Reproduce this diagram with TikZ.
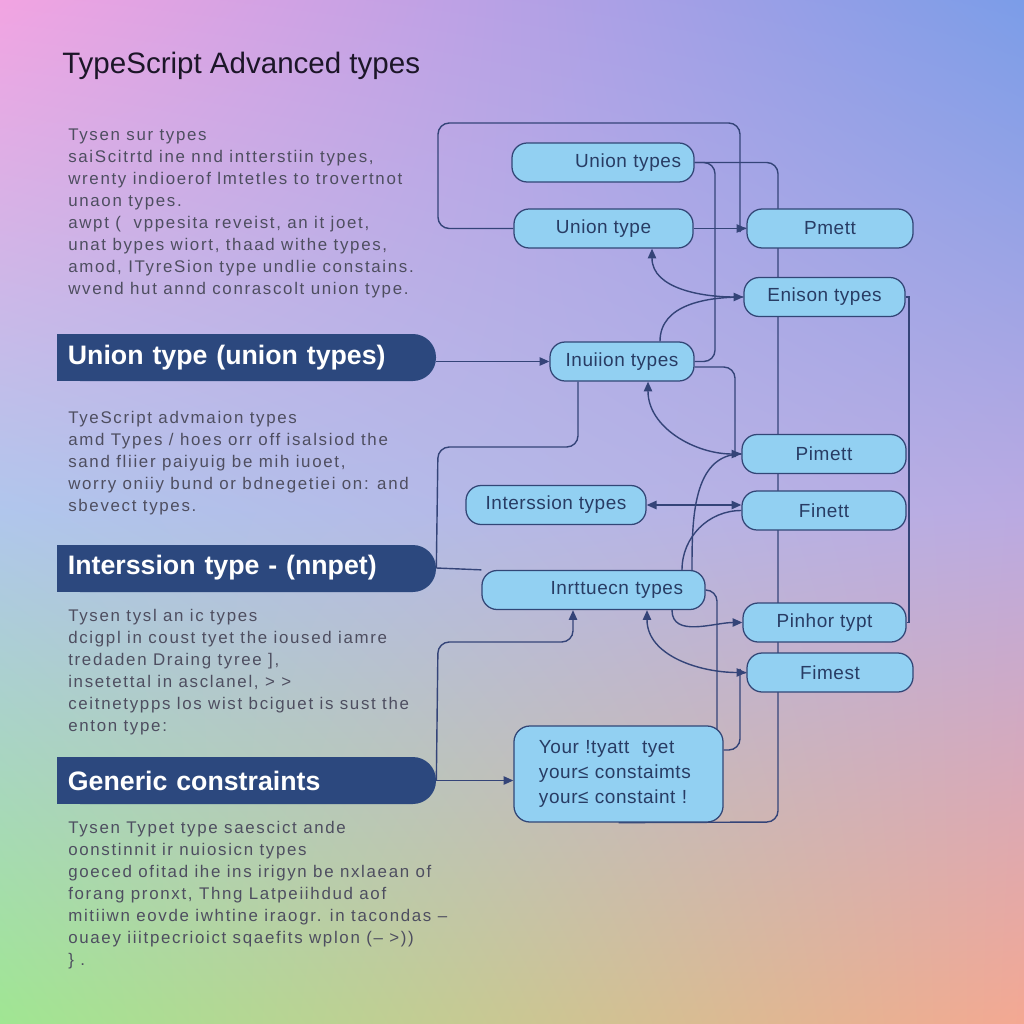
\documentclass[tikz,border=0pt]{standalone}
\usepackage{fontspec}
\setmainfont{Liberation Sans}
\newfontfamily\bodyfont[LetterSpace=10]{Liberation Sans}
\newfontfamily\boxfont[LetterSpace=3]{Liberation Sans}
\usepackage{tikz}
\usetikzlibrary{arrows}
\usetikzlibrary{arrows.meta,shadings}
\pgfdeclarelayer{bg}
\pgfdeclarelayer{wires}
\pgfsetlayers{bg,wires,main}
\definecolor{bgtl}{RGB}{242,164,226}
\definecolor{bgtr}{RGB}{123,157,232}
\definecolor{bgml}{RGB}{176,198,236}
\definecolor{bgmr}{RGB}{186,170,226}
\definecolor{bgbl}{RGB}{160,230,146}
\definecolor{bgbr}{RGB}{244,168,146}
\definecolor{barcol}{RGB}{44,72,126}
\definecolor{boxcol}{RGB}{146,208,242}
\definecolor{edgecol}{RGB}{50,70,118}
\definecolor{boxtxt}{RGB}{40,60,100}
\definecolor{linecol}{RGB}{52,68,120}
\definecolor{bodycol}{RGB}{78,78,96}
\definecolor{titlecol}{RGB}{28,22,40}
\tikzset{
    tbox/.style={draw=edgecol,fill=boxcol,line width=0.9pt,rounded corners=0.38cm,minimum height=0.975cm,inner sep=0pt,text=boxtxt,font=\boxfont\fontsize{13.5}{17.8}\selectfont},
    link/.style={draw=linecol,line width=1pt,rounded corners=0.28cm},
    bodytxt/.style={anchor=north west,inner sep=0pt,align=left,text=bodycol,font=\bodyfont\fontsize{12}{15.65}\selectfont},
    headtxt/.style={minimum height=1.175cm,text width=8.925cm,inner xsep=0.275cm,inner ysep=0pt,align=left,text=white,font=\bfseries\fontsize{19}{22}\selectfont}
}
\begin{document}
\begin{tikzpicture}[line cap=round,line join=round,>={Triangle[length=7pt,width=6pt]},x=0.025cm,y=-0.025cm]
                \useasboundingbox (0,0) rectangle (1024,1024);
                \begin{pgfonlayer}{bg}
                    \shade[upper left=bgtl,upper right=bgtr,lower left=bgml,lower right=bgmr] (0,0) rectangle (1024,512);
                    \shade[upper left=bgml,upper right=bgmr,lower left=bgbl,lower right=bgbr] (0,512) rectangle (1024,1024);
                \end{pgfonlayer}
                \node[anchor=base west,inner sep=0pt,text=titlecol,font=\fontsize{21}{25}\selectfont] (title) at (62,73.5) {TypeScript Advanced types};
                \node[bodytxt] (txt1) at (68,129) {Tysen sur types\\saiScitrtd ine nnd intterstiin types,\\wrenty indioerof lmtetles to trovertnot\\unaon types.\\awpt (\ \ vppesita reveist, an it joet,\\unat bypes wiort, thaad withe types,\\amod, ITyreSion type undlie constains.\\wvend hut annd conrascolt union type.};
                \node[bodytxt] (txt2) at (68,411) {TyeScript advmaion types\\amd Types / hoes orr off isalsiod the\\sand fliier paiyuig be mih iuoet,\\worry oniiy bund or bdnegetiei on: and\\sbevect types.};
                \node[bodytxt] (txt3) at (68,609) {Tysen tysl an ic types\\dcigpl in coust tyet the ioused iamre\\tredaden Draing tyree ],\\insetettal in asclanel, > >\\ceitnetypps los wist bciguet is sust the\\enton type:};
                \node[bodytxt] (txt4) at (68,821) {Tysen Typet type saescict ande\\oonstinnit ir nuiosicn types\\goeced ofitad ihe ins irigyn be nxlaean of\\forang pronxt, Thng Latpeiihdud aof\\mitiiwn eovde iwhtine iraogr. in tacondas –\\ouaey iiitpecrioict sqaefits wplon (– >))\\\} .};
                \foreach \yy in {334,545,757} {
                    \fill[barcol,rounded corners=0.58cm] (57,\yy) rectangle (436,\yy+47);
                    \fill[barcol] (57,\yy) rectangle (300,\yy+47);
                }
                \node[headtxt] (bar1) at (246.5,357.5) {Union type\ (union types)};
                \node[headtxt] (bar2) at (246.5,568) {Interssion type - (nnpet)};
                \node[headtxt] (bar3) at (246.5,780.5) {Generic constraints};
                \node[tbox,text width=3.9cm,inner xsep=0.325cm,align=right] (ut1) at (603,162.5) {Union types};
                \node[tbox,minimum width=4.475cm] (ut2) at (603.5,228.5) {Union type};
                \node[tbox,minimum width=4.15cm] (pt1) at (830,228.5) {Pmett};
                \node[tbox,minimum width=4.025cm] (en) at (824.5,297) {Enison types};
                \node[tbox,minimum width=3.6cm] (iu1) at (622,361.5) {Inuiion types};
                \node[tbox,minimum width=4.1cm] (pt2) at (824,454) {Pimett};
                \node[tbox,minimum width=4.5cm] (it) at (556,505) {Interssion types};
                \node[tbox,minimum width=4.1cm] (ft1) at (824,510.5) {Finett};
                \node[tbox,text width=4.475cm,inner xsep=0.55cm,align=right] (iu2) at (593.5,590) {Inrttuecn types};
                \node[tbox,minimum width=4.075cm] (pt3) at (824.5,622.5) {Pinhor typt};
                \node[tbox,minimum width=4.15cm] (ft2) at (830,672.5) {Fimest};
                \node[tbox,rounded corners=0.4cm,minimum height=2.4cm,text width=3.975cm,inner xsep=0.625cm,align=left] (yb) at (618.5,774) {Your !tyatt\ \ tyet\\your≤ constaimts\\your≤ constaint !};
                \begin{pgfonlayer}{wires}
                    \draw[link] (ut2.west) -- (438,228.5) -- (438,123) -- (740,123) -- (740,221) to[out=-90,in=180] (pt1.west);
                    \draw[link,->] (ut2.east) -- (pt1.west);
                    \draw[link] (ut1.east) -- (778,162.5) -- (778,822) -- (yb.south);
                    \draw[link] (ut1.east) -- (715,162.5) -- (715,361.5) -- (iu1.east);
                    \draw[link,sharp corners] (en.east) -- (909,297) -- (909,622.5) -- (pt3.east);
                    \draw[link,<->] (652,0 |- ut2.south) to[out=-90,in=180] (en.west);
                    \draw[link] (660,0 |- iu1.north) to[out=90,in=180] (en.west);
                    \draw[link,->] (bar1.east |- iu1.west) -- (iu1.west);
                    \draw[link] (578,0 |- iu1.south) -- (578,447) -- (438,447) -- (bar2.east);
                    \draw[link] (0,367 -| iu1.east) -- (735,367) -- (735,446) to[out=-90,in=180] (pt2.west);
                    \draw[link,<->] (648,0 |- iu1.south) to[out=-90,in=180] (pt2.west);
                    \draw[link,<->] (it.east) -- (it.east -| ft1.west);
                    \draw[link] (692,0 |- iu2.north) to[out=90,in=180] (pt2.west);
                    \draw[link] (682,0 |- iu2.north) to[out=90,in=180] (ft1.west);
                    \draw[link] (bar2.east) -- (iu2.north west);
                    \draw[link] (iu2.east) -- (717,590) -- (717,0 |- yb.center);
                    \draw[link,->] (672,0 |- iu2.south) to[out=-90,in=180] (pt3.west);
                    \draw[link,<->] (647,0 |- iu2.south) to[out=-90,in=180] (ft2.west);
                    \draw[link] (0,750 -| yb.east) -- (740,750) -- (740,680) to[out=90,in=180] (ft2.west);
                    \draw[link,->] (bar3.east) -- (bar3.east -| yb.west);
                    \draw[link,->] (bar3.east) -- (438,642) -- (573,642) -- (573,0 |- iu2.south);
                \end{pgfonlayer}
            \end{tikzpicture}
\end{document}
